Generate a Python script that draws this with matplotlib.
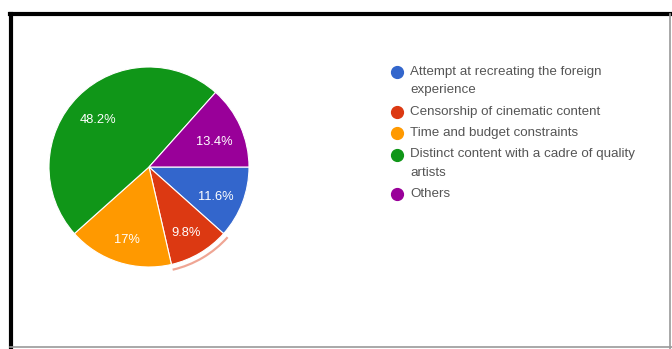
import matplotlib.pyplot as plt
from matplotlib.lines import Line2D
from matplotlib.patches import Wedge
import numpy as np

plt.rcParams['font.family'] = ['Liberation Sans', 'DejaVu Sans']

labels = [
    "Attempt at recreating the foreign\nexperience",
    "Censorship of cinematic content",
    "Time and budget constraints",
    "Distinct content with a cadre of quality\nartists",
    "Others",
]
valores = [11.6, 9.8, 17.0, 48.2, 13.4]
pct_labels = ["11.6%", "9.8%", "17%", "48.2%", "13.4%"]
cores = ["#3366cc", "#dc3912", "#ff9900", "#109618", "#990099"]

W, H = 672, 349
fig = plt.figure(figsize=(W / 100, H / 100), dpi=100)

# pie area: center at (149, 167) px, radius ~100 px
ax = fig.add_axes([39 / W, (H - 167 - 110) / H, 220 / W, 220 / H])
wedges, _ = ax.pie(valores, colors=cores, startangle=0, counterclock=False,
                   radius=1, wedgeprops=dict(edgecolor="white", linewidth=0.8))

# percentage labels inside the slices
total = sum(valores)
ang = 0.0
for v, txt in zip(valores, pct_labels):
    meio = np.deg2rad(ang - v / total * 180)
    ax.text(0.72 * np.cos(meio), 0.72 * np.sin(meio) - 0.04, txt,
            color="white", fontsize=9.3, ha="center", va="center")
    ang -= v / total * 360

# hover outline around the red slice
inicio = -valores[0] / total * 360
fim = inicio - valores[1] / total * 360
ax.add_patch(Wedge((0, 0), 1.065, fim, inicio, width=0.022,
                   facecolor="#dc3912", alpha=0.45, edgecolor="none"))
ax.set_xlim(-1.1, 1.1)
ax.set_ylim(-1.1, 1.1)
ax.set_aspect("equal")
ax.axis("off")

# legend: marker next to the first line of each entry
y = 72
for lab, c in zip(labels, cores):
    fig.add_artist(Line2D([397 / W], [1 - y / H], marker="o", linestyle="none",
                          markersize=8.5, markerfacecolor=c, markeredgecolor=c,
                          transform=fig.transFigure))
    for i, linha in enumerate(lab.split("\n")):
        fig.text(410 / W, 1 - (y + 18 * i) / H, linha, fontsize=9.6,
                 color="#555555", ha="left", va="center")
    y += 18 * lab.count("\n") + 21.5

# screenshot frame
fig.add_artist(Line2D([10 / W, 1], [1 - 14 / H, 1 - 14 / H], color="black",
                      linewidth=3, transform=fig.transFigure))
fig.add_artist(Line2D([10.5 / W, 10.5 / W], [0, 1 - 14 / H], color="black",
                      linewidth=3, transform=fig.transFigure))
fig.add_artist(Line2D([10 / W, 1], [2.5 / H, 2.5 / H], color="#9a9a9a",
                      linewidth=1.2, transform=fig.transFigure))
fig.add_artist(Line2D([1 - 2 / W, 1 - 2 / W], [0, 1 - 14 / H], color="#9a9a9a",
                      linewidth=1.2, transform=fig.transFigure))

fig.savefig("out.png", dpi=100)
